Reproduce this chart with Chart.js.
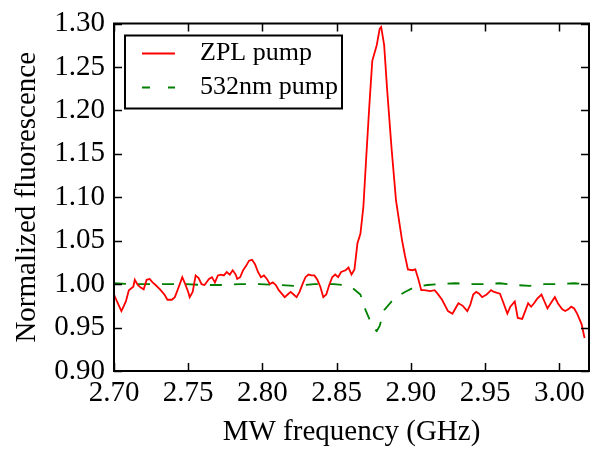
<!DOCTYPE html>
<html>
<head>
<meta charset="utf-8">
<script src="https://cdn.jsdelivr.net/npm/chart.js@4.4.1/dist/chart.umd.min.js"></script>
<style>
  html, body { margin: 0; padding: 0; background: #fff; }
  canvas { display: block; }
</style>
</head>
<body>
<canvas id="myChart" width="602" height="451"></canvas>
<script>
// ZPL pump (red, solid)
const zplFreq = [
  2.700, 2.702, 2.705, 2.708, 2.710, 2.713, 2.714, 2.716, 2.718, 2.720,
  2.722, 2.724, 2.726, 2.728, 2.731, 2.734, 2.736, 2.739, 2.741, 2.743,
  2.746, 2.748, 2.750, 2.751, 2.753, 2.755, 2.757, 2.759, 2.761, 2.764,
  2.766, 2.768, 2.770, 2.772, 2.774, 2.776, 2.778, 2.780, 2.782, 2.783,
  2.785, 2.787, 2.789, 2.791, 2.793, 2.795, 2.797, 2.799, 2.801, 2.803,
  2.805, 2.807, 2.809, 2.811, 2.813, 2.815, 2.817, 2.819, 2.821, 2.823,
  2.825, 2.827, 2.829, 2.831, 2.833, 2.835, 2.837, 2.839, 2.841, 2.843,
  2.845, 2.847, 2.849, 2.851, 2.853, 2.856, 2.858, 2.860, 2.862, 2.864,
  2.866, 2.868, 2.870, 2.872, 2.874, 2.877, 2.879, 2.880, 2.882, 2.884,
  2.887, 2.890, 2.894, 2.896, 2.898, 2.901, 2.903, 2.905, 2.907, 2.909,
  2.913, 2.916, 2.918, 2.921, 2.925, 2.928, 2.930, 2.932, 2.935, 2.938,
  2.940, 2.942, 2.944, 2.946, 2.948, 2.951, 2.954, 2.956, 2.960, 2.962,
  2.965, 2.967, 2.970, 2.972, 2.975, 2.977, 2.979, 2.981, 2.983, 2.985,
  2.988, 2.990, 2.992, 2.995, 2.997, 2.999, 3.002, 3.004, 3.006, 3.008,
  3.010, 3.012, 3.015, 3.017
];
const zplSignal = [
  0.988, 0.980, 0.969, 0.980, 0.993, 0.997, 1.005, 0.999, 0.996, 0.994,
  1.005, 1.006, 1.002, 0.999, 0.994, 0.988, 0.982, 0.982, 0.985, 0.994,
  1.008, 1.000, 0.991, 0.985, 0.991, 1.010, 1.007, 1.000, 0.999, 1.006,
  1.008, 1.002, 1.010, 1.011, 1.010, 1.014, 1.011, 1.016, 1.011, 1.006,
  1.008, 1.016, 1.021, 1.027, 1.028, 1.023, 1.014, 1.008, 1.010, 1.006,
  1.000, 1.002, 0.999, 0.993, 0.989, 0.985, 0.988, 0.991, 0.988, 0.985,
  0.991, 1.000, 1.008, 1.011, 1.010, 1.010, 1.005, 0.997, 0.985, 0.988,
  0.999, 1.008, 1.011, 1.008, 1.014, 1.016, 1.019, 1.011, 1.017, 1.047,
  1.058, 1.089, 1.148, 1.205, 1.257, 1.275, 1.294, 1.296, 1.275, 1.224,
  1.156, 1.096, 1.051, 1.033, 1.017, 1.016, 1.017, 1.006, 0.993, 0.993,
  0.992, 0.993, 0.989, 0.982, 0.969, 0.966, 0.972, 0.978, 0.975, 0.969,
  0.976, 0.988, 0.991, 0.989, 0.985, 0.988, 0.993, 0.991, 0.989, 0.980,
  0.966, 0.974, 0.980, 0.961, 0.960, 0.969, 0.978, 0.974, 0.978, 0.983,
  0.988, 0.980, 0.972, 0.980, 0.985, 0.978, 0.971, 0.969, 0.971, 0.974,
  0.972, 0.966, 0.954, 0.938
];

// 532nm pump (green, dashed)
const greenFreq = [
  2.700, 2.710, 2.722, 2.735, 2.748, 2.760, 2.772, 2.785, 2.798, 2.810,
  2.822, 2.835, 2.848, 2.855, 2.861, 2.866, 2.869, 2.872, 2.875, 2.877,
  2.879, 2.882, 2.887, 2.893, 2.896, 2.903, 2.911, 2.920, 2.930, 2.940,
  2.950, 2.960, 2.970, 2.980, 2.990, 3.000, 3.010, 3.020
];
const greenSignal = [
  1.001, 1.000, 1.000, 1.000, 1.000, 0.999, 0.999, 1.000, 1.000, 0.999,
  0.998, 1.000, 1.000, 0.999, 0.995, 0.988, 0.972, 0.960, 0.949, 0.946,
  0.952, 0.970, 0.980, 0.988, 0.991, 0.997, 0.999, 1.000, 1.001, 1.000,
  1.000, 1.001, 0.999, 0.998, 1.000, 1.000, 1.001, 1.000
];

const xTicks = [2.70, 2.75, 2.80, 2.85, 2.90, 2.95, 3.00];
const yTicks = [0.90, 0.95, 1.00, 1.05, 1.10, 1.15, 1.20, 1.25, 1.30];

const serif = "'Liberation Serif', 'DejaVu Serif', serif";

function toPoints(xs, ys) {
  return xs.map((x, i) => ({ x: x, y: ys[i] }));
}

// frame around the plot with inward ticks on all four sides
const frameTicks = {
  id: "frameTicks",
  afterDatasetsDraw(chart) {
    const { ctx, chartArea: a, scales } = chart;
    const len = 8;
    ctx.save();
    ctx.strokeStyle = "#000";
    ctx.lineWidth = 1.5;
    ctx.beginPath();
    xTicks.forEach((v) => {
      const px = Math.round(scales.x.getPixelForValue(v)) + 0.5;
      ctx.moveTo(px, a.bottom);
      ctx.lineTo(px, a.bottom - len);
      ctx.moveTo(px, a.top);
      ctx.lineTo(px, a.top + len);
    });
    yTicks.forEach((v) => {
      const py = Math.round(scales.y.getPixelForValue(v)) + 0.5;
      ctx.moveTo(a.left, py);
      ctx.lineTo(a.left + len, py);
      ctx.moveTo(a.right, py);
      ctx.lineTo(a.right - len, py);
    });
    ctx.stroke();
    ctx.lineWidth = 2;
    ctx.strokeRect(a.left, a.top, a.right - a.left, a.bottom - a.top);
    ctx.restore();
  },
};

// boxed legend in the upper left corner of the plot
const boxLegend = {
  id: "boxLegend",
  afterDraw(chart) {
    const { ctx, chartArea: a } = chart;
    const x0 = a.left + 11;
    const y0 = a.top + 12;
    ctx.save();
    ctx.fillStyle = "#fff";
    ctx.fillRect(x0, y0, 217, 73);
    ctx.strokeStyle = "#000";
    ctx.lineWidth = 2;
    ctx.strokeRect(x0, y0, 217, 73);
    chart.data.datasets.forEach((ds, i) => {
      const y = y0 + 18 + i * 34;
      ctx.strokeStyle = ds.borderColor;
      ctx.lineWidth = ds.borderWidth;
      ctx.setLineDash(ds.borderDash && ds.borderDash.length ? [8, 18] : []);
      ctx.beginPath();
      ctx.moveTo(x0 + 17, y);
      ctx.lineTo(x0 + 50, y);
      ctx.stroke();
      ctx.setLineDash([]);
      ctx.fillStyle = "#000";
      ctx.font = "26px " + serif;
      ctx.textBaseline = "middle";
      ctx.fillText(ds.label, x0 + 75, y);
    });
    ctx.restore();
  },
};

const ctx = document.getElementById("myChart").getContext("2d");
const miGrafico = new Chart(ctx, {
  type: "line",
  data: {
    datasets: [
      {
        label: "ZPL pump",
        data: toPoints(zplFreq, zplSignal),
        borderColor: "#ff0000",
        borderWidth: 1.8,
        pointRadius: 0,
        tension: 0,
      },
      {
        label: "532nm pump",
        data: toPoints(greenFreq, greenSignal),
        borderColor: "#008000",
        borderWidth: 1.8,
        borderDash: [12, 12],
        pointRadius: 0,
        tension: 0,
      },
    ],
  },
  options: {
    responsive: false,
    animation: false,
    devicePixelRatio: 1,
    layout: { padding: { top: 15, right: 13, left: 0, bottom: 0 } },
    scales: {
      x: {
        type: "linear",
        min: 2.70,
        max: 3.02,
        afterBuildTicks: (scale) => {
          scale.ticks = xTicks.map((v) => ({ value: v }));
        },
        afterFit: (scale) => {
          scale.height = 80;
        },
        grid: { display: false, drawTicks: false },
        border: { display: false },
        ticks: {
          color: "#000",
          padding: 5,
          maxRotation: 0,
          autoSkip: false,
          font: { family: serif, size: 29 },
          callback: (v) => Number(v).toFixed(2),
        },
        title: {
          display: true,
          text: "MW frequency (GHz)",
          color: "#000",
          font: { family: serif, size: 29 },
          padding: { top: 0, bottom: 1.5 },
        },
      },
      y: {
        min: 0.90,
        max: 1.30,
        afterBuildTicks: (scale) => {
          scale.ticks = yTicks.map((v) => ({ value: v }));
        },
        afterFit: (scale) => {
          scale.width = 114;
        },
        grid: { display: false, drawTicks: false },
        border: { display: false },
        ticks: {
          color: "#000",
          padding: 9,
          autoSkip: false,
          font: { family: serif, size: 29, lineHeight: 1 },
          callback: (v) => Number(v).toFixed(2),
        },
        title: {
          display: true,
          text: "Normalized fluorescence",
          color: "#000",
          font: { family: serif, size: 29 },
          padding: { top: 10, bottom: 0 },
        },
      },
    },
    plugins: {
      legend: { display: false },
      tooltip: { enabled: false },
    },
  },
  plugins: [frameTicks, boxLegend],
});
</script>
</body>
</html>
